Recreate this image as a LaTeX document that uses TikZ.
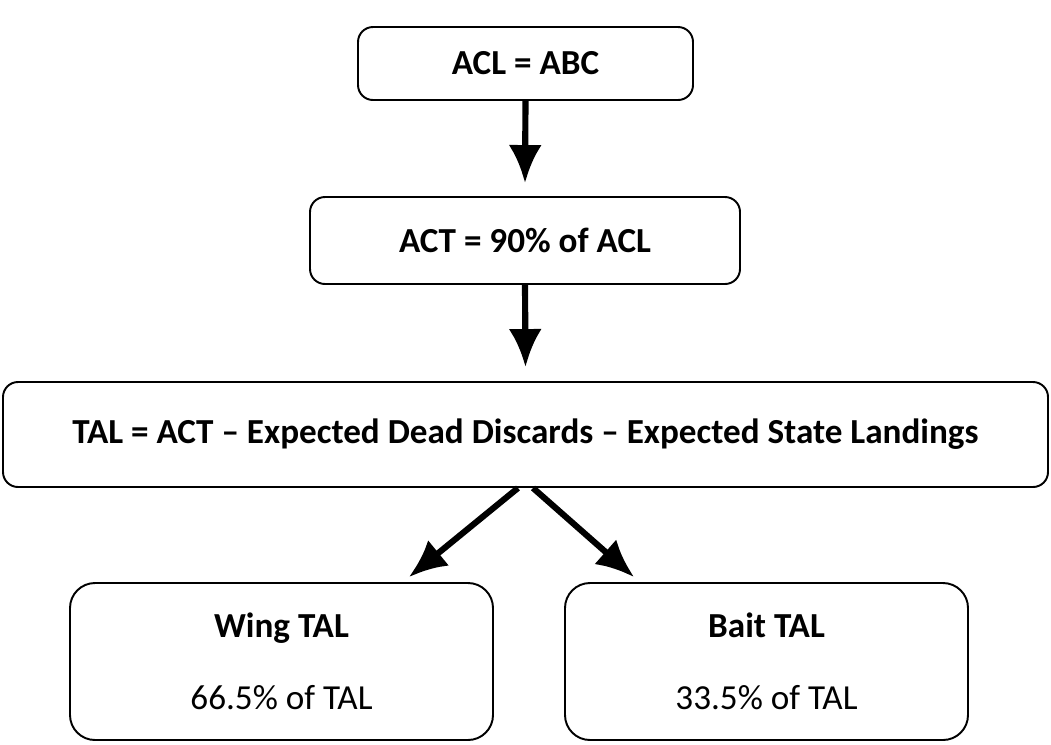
\documentclass[tikz,border=0pt]{standalone}
\usepackage{fontspec}
\setmainfont{Carlito}
\usetikzlibrary{arrows.meta}

\begin{document}
\begin{tikzpicture}
 \tikzstyle{boite}=[rectangle,draw,rounded corners=0.3cm,line width=1.1pt,text=black,font=\fontsize{20}{24}\selectfont\bfseries]
 \tikzstyle{bas}=[rectangle,draw,rounded corners=0.5cm,line width=1.1pt,text=black,align=center,font=\fontsize{20}{24}\selectfont,minimum width=8.46cm,minimum height=3.14cm]
 \tikzstyle{fleche}=[-{Latex[length=7.6mm,width=6.6mm]},line width=3.5pt]
 \useasboundingbox (0,0) rectangle (21.02,-14.88);
 \node[boite,minimum width=6.7cm,minimum height=1.46cm] (ACL) at (10.51,-1.27) {ACL = ABC};
 \node[boite,minimum width=8.6cm,minimum height=1.74cm] (ACT) at (10.5,-4.81) {ACT = 90\% of ACL};
 \node[boite,minimum width=20.9cm,minimum height=2.1cm] (TAL) at (10.51,-8.69) {TAL = ACT – Expected Dead Discards – Expected State Landings};
 \node[bas] (Wing) at (5.63,-13.23) {\textbf{Wing TAL}\\[17pt]66.5\% of TAL};
 \node[bas,minimum width=8.06cm] (Bait) at (15.33,-13.23) {\textbf{Bait TAL}\\[17pt]33.5\% of TAL};
 \draw[fleche] (ACL.south) -- ([yshift=0.26cm]ACT.north);
 \draw[fleche] (ACT.south) -- ([yshift=0.28cm]TAL.north);
 \draw[fleche] ([xshift=-0.15cm]TAL.south) -- ([xshift=-1.7cm,yshift=0.1cm]Wing.north east);
 \draw[fleche] ([xshift=0.15cm]TAL.south) -- ([xshift=1.4cm,yshift=0.1cm]Bait.north west);
\end{tikzpicture}
\end{document}
